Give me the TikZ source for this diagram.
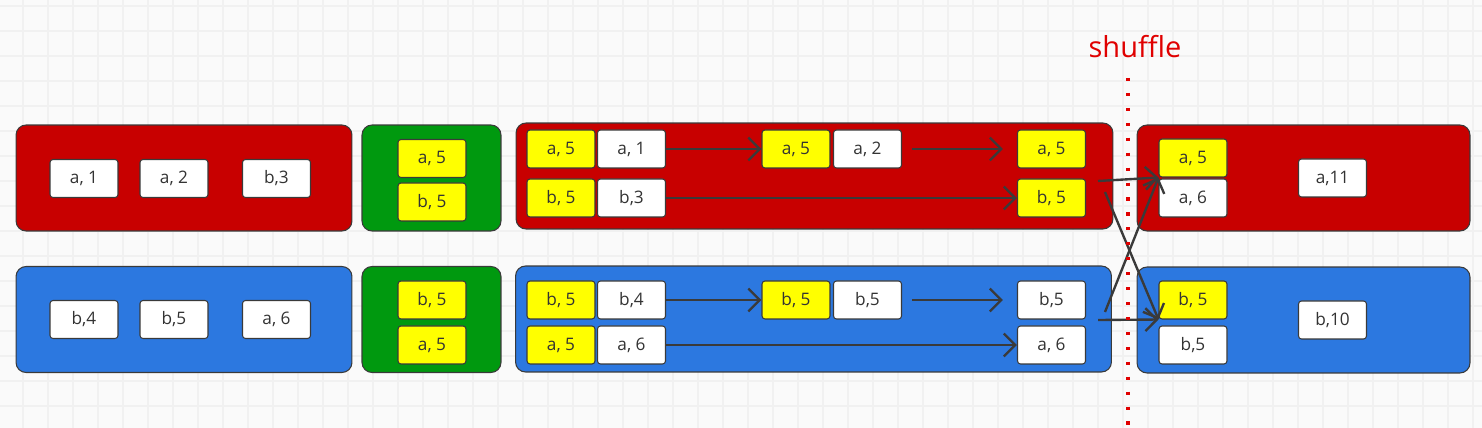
\documentclass[tikz,border=0pt]{standalone}
\usepackage{fontspec}
\setmainfont{Open Sans}
\usetikzlibrary{arrows.meta}
\definecolor{partred}{HTML}{C80000}
\definecolor{partblue}{HTML}{2C78E0}
\definecolor{combgreen}{HTML}{00990F}
\definecolor{keyyellow}{HTML}{FFFF00}
\definecolor{edgegray}{HTML}{3A3A3A}
\definecolor{textgray}{HTML}{333333}
\definecolor{gridgray}{HTML}{F1F1F1}
\definecolor{paper}{HTML}{FAFAFA}
\definecolor{cutred}{HTML}{E00000}
\tikzset{
  part/.style={draw=edgegray, line width=0.6pt, rounded corners=0.2cm, minimum height=2.12cm, inner sep=0},
  rec/.style={draw=edgegray, line width=0.6pt, fill=white, rounded corners=0.06cm, minimum width=1.36cm, minimum height=0.76cm, inner sep=0, text=textgray, font=\fontsize{9.8}{11}\selectfont},
  acc/.style={rec, fill=keyyellow},
  flow/.style={draw=edgegray, line width=1.35pt, -{Straight Barb[length=6.5pt,width=13pt]}},
  gridline/.style={draw=gridgray, line width=0.6pt},
}
\begin{document}
\begin{tikzpicture}[x=0.02cm, y=-0.02cm]
    \useasboundingbox (0,0) rectangle (1482,428);
    \fill[paper] (0,0) rectangle (1482,428);
    \foreach \gx in {23,48,...,1473}{
        \draw[gridline] (\gx,0) -- (\gx,428);
    }
    \foreach \gy in {6,31,...,406}{
        \draw[gridline] (0,\gy) -- (1482,\gy);
    }
    % partitions
    \node[part, fill=partred, minimum width=6.72cm] (inA) at (184,178) {};
    \node[part, fill=partblue, minimum width=6.72cm] (inB) at (184,319.5) {};
    \node[part, fill=combgreen, minimum width=2.78cm] (combA) at (431.5,178) {};
    \node[part, fill=combgreen, minimum width=2.78cm] (combB) at (431.5,319.5) {};
    \node[part, fill=partred, minimum width=11.94cm] (aggA) at (814.5,176) {};
    \node[part, fill=partblue, minimum width=11.92cm] (aggB) at (813.5,319) {};
    \node[part, fill=partred, minimum width=6.66cm] (outA) at (1303.5,178) {};
    \node[part, fill=partblue, minimum width=6.66cm] (outB) at (1303.5,320) {};
    % input records
    \node[rec] (inA1) at (84,178.5) {a, 1};
    \node[rec] (inA2) at (174,178.5) {a, 2};
    \node[rec] (inA3) at (276.5,178.5) {b,3};
    \node[rec] (inB1) at (84,319.5) {b,4};
    \node[rec] (inB2) at (174,319.5) {b,5};
    \node[rec] (inB3) at (276.5,319.5) {a, 6};
    % initial values
    \node[acc] (zA1) at (432,158.5) {a, 5};
    \node[acc] (zA2) at (432,202) {b, 5};
    \node[acc] (zB1) at (432,300) {b, 5};
    \node[acc] (zB2) at (432,345) {a, 5};
    % seqOp, top
    \node[acc] (sA1) at (561,149) {a, 5};
    \node[rec] (vA1) at (631.5,149) {a, 1};
    \node[acc] (sA2) at (796,149) {a, 5};
    \node[rec] (vA2) at (867.5,149) {a, 2};
    \node[acc] (sA3) at (1051.5,149) {a, 5};
    \node[acc] (sA4) at (561,198) {b, 5};
    \node[rec] (vA4) at (631.5,198) {b,3};
    \node[acc] (sA5) at (1051.5,198) {b, 5};
    % seqOp, bottom
    \node[acc] (sB1) at (561,300) {b, 5};
    \node[rec] (vB1) at (631.5,300) {b,4};
    \node[acc] (sB2) at (796,300) {b, 5};
    \node[rec] (vB2) at (867.5,300) {b,5};
    \node[rec] (sB3) at (1051.5,300) {b,5};
    \node[acc] (sB4) at (561,345) {a, 5};
    \node[rec] (vB4) at (631.5,345) {a, 6};
    \node[rec] (sB5) at (1051.5,345) {a, 6};
    % combOp
    \node[acc] (cA1) at (1193,158) {a, 5};
    \node[rec] (cA2) at (1193,198) {a, 6};
    \node[rec] (rA) at (1332.5,178) {a,11};
    \node[acc] (cB1) at (1193,300) {b, 5};
    \node[rec] (cB2) at (1193,345) {b,5};
    \node[rec] (rB) at (1332.5,320) {b,10};
    % flows
    \draw[flow] (vA1.east) -- (sA2.west);
    \draw[flow, shorten <=0.2cm, shorten >=0.28cm] (vA2.east) -- (sA3.west);
    \draw[flow] (vA4.east) -- (sA5.west);
    \draw[flow] (vB1.east) -- (sB2.west);
    \draw[flow, shorten <=0.2cm, shorten >=0.28cm] (vB2.east) -- (sB3.west);
    \draw[flow] (vB4.east) -- (sB5.west);
    \coordinate (outA1) at (1098,181);
    \coordinate (outA2) at (1105,192);
    \coordinate (outB1) at (1098,320);
    \coordinate (outB2) at (1105,312);
    \draw[flow] (outA1) -- (cA1.south west);
    \draw[flow] (outA2) -- (cB1.south west);
    \draw[flow] (outB1) -- (cB1.south west);
    \draw[flow] (outB2) -- (cA1.south west);
    % shuffle
    \node[anchor=base, text=cutred, font=\fontsize{16.5}{19}\selectfont] (shuffle) at (1135,58) {shuffle};
    \coordinate (cutTop) at (1128,78);
    \coordinate (cutBot) at (1128,428);
    \draw[cutred, line width=1.8pt, dash pattern=on 1.8pt off 6.7pt] (cutTop) -- (cutBot);
\end{tikzpicture}
\end{document}
